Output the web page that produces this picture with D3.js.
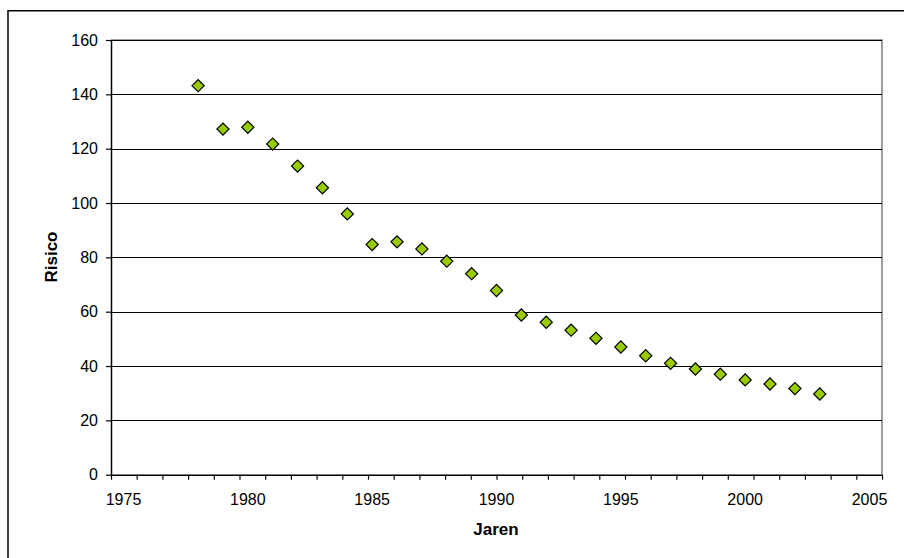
<!DOCTYPE html>
<html>
<head>
<meta charset="utf-8">
<script src="https://cdn.jsdelivr.net/npm/d3@7"></script>
<style>
  body { margin: 0; background: #fff; }
  text { font-family: "Liberation Sans", Arial, sans-serif; fill: #000; }
</style>
</head>
<body>
<script>
// Chart data
var years = [1978, 1979, 1980, 1981, 1982, 1983, 1984, 1985, 1986, 1987, 1988, 1989, 1990,
             1991, 1992, 1993, 1994, 1995, 1996, 1997, 1998, 1999, 2000, 2001, 2002, 2003];
var risico = [143.2, 127.2, 127.9, 121.7, 113.6, 105.6, 96.0, 84.7, 85.7, 83.1, 78.6, 74.0, 67.8,
              58.8, 56.1, 53.2, 50.2, 47.0, 43.8, 41.0, 38.9, 37.0, 34.9, 33.4, 31.7, 29.7];
var xTickLabels = [1975, 1980, 1985, 1990, 1995, 2000, 2005];
var yTickLabels = [0, 20, 40, 60, 80, 100, 120, 140, 160];

var width = 904, height = 558;
var plotLeft = 111, plotRight = 882, plotTop = 40, plotBottom = 474.7;

var svg = d3.select("body").append("svg")
    .attr("width", width)
    .attr("height", height);

// Scales
// tick marks span the full plot width...
var x = d3.scaleLinear().domain([1975, 2005]).range([plotLeft, plotRight]);
// ...but Excel places labels and points on a slightly narrower scale
var xData = d3.scaleLinear().domain([1975, 2005]).range([plotLeft + 12.5, plotRight - 12.5]);
var y = d3.scaleLinear().domain([0, 160]).range([plotBottom, plotTop]);

// Outer frame (clipped at right and bottom)
svg.append("path")
    .attr("d", "M8,558 L8,10.7 L904,10.7")
    .attr("fill", "none")
    .attr("stroke", "#000")
    .attr("stroke-width", 1.5);

// Plot area border (gray)
svg.append("path")
    .attr("d", "M" + plotLeft + "," + plotTop + " L" + plotRight + "," + plotTop + " L" + plotRight + "," + plotBottom)
    .attr("fill", "none")
    .attr("stroke", "#808080")
    .attr("stroke-width", 1.5);

// Gridlines
svg.append("g")
    .selectAll("line")
    .data(yTickLabels.filter(function(d) { return d > 0; }))
    .enter()
    .append("line")
    .attr("x1", plotLeft)
    .attr("x2", plotRight)
    .attr("y1", function(d) { return Math.round(y(d)) + 0.5; })
    .attr("y2", function(d) { return Math.round(y(d)) + 0.5; })
    .attr("stroke", "#000")
    .attr("stroke-width", 1);

// X axis: a tick every year, labels every five
var xAxis = svg.append("g")
    .attr("transform", "translate(0," + plotBottom + ")")
    .call(d3.axisBottom(x).ticks(30).tickSize(5).tickSizeOuter(0).tickFormat(""));
xAxis.select(".domain").attr("stroke", "#000").attr("stroke-width", 1.5);
xAxis.selectAll(".tick line").attr("stroke", "#000").attr("stroke-width", 1.2);

svg.append("g")
    .selectAll("text")
    .data(xTickLabels)
    .enter()
    .append("text")
    .attr("x", function(d) { return xData(d); })
    .attr("y", 505)
    .attr("text-anchor", "middle")
    .style("font-size", "16px")
    .text(function(d) { return d; });

// Y axis
var yAxis = svg.append("g")
    .attr("transform", "translate(" + plotLeft + ",0)")
    .call(d3.axisLeft(y).tickValues(yTickLabels).tickSize(5).tickSizeOuter(0).tickPadding(8));
yAxis.select(".domain").attr("stroke", "#000").attr("stroke-width", 1.5);
yAxis.selectAll(".tick line").attr("stroke", "#000").attr("stroke-width", 1.2);
yAxis.selectAll(".tick text")
    .style("font-family", "'Liberation Sans', Arial, sans-serif")
    .style("font-size", "16px")
    .attr("fill", "#000");

// Axis titles
svg.append("text")
    .attr("x", 496)
    .attr("y", 535)
    .attr("text-anchor", "middle")
    .style("font-size", "17px")
    .style("font-weight", "bold")
    .text("Jaren");

svg.append("text")
    .attr("transform", "translate(57,257) rotate(-90)")
    .attr("text-anchor", "middle")
    .style("font-size", "17px")
    .style("font-weight", "bold")
    .text("Risico");

// Diamond markers
var diamond = d3.symbol().type(d3.symbolSquare).size(74);
svg.append("g")
    .selectAll("path")
    .data(years)
    .enter()
    .append("path")
    .attr("d", diamond)
    .attr("transform", function(d, i) {
        return "translate(" + xData(d) + "," + y(risico[i]) + ") rotate(45)";
    })
    .attr("fill", "#99CC00")
    .attr("stroke", "#000")
    .attr("stroke-width", 1.2);
</script>
</body>
</html>
